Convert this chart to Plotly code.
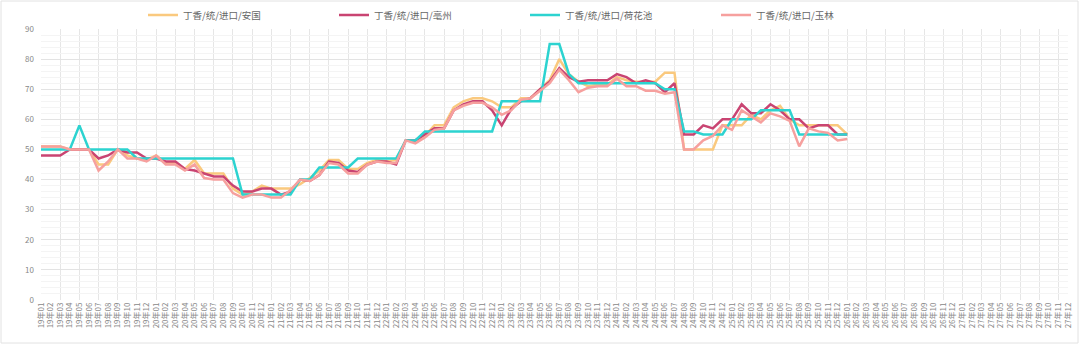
import plotly.graph_objects as go

years = ["19", "20", "21", "22", "23", "24", "25", "26", "27"]
month_nums = ["01", "02", "03", "04", "05", "06", "07", "08", "09", "10", "11", "12"]
months = [f"{y}年{m}" for y in years for m in month_nums]

names = ["丁香/统/进口/安国", "丁香/统/进口/亳州", "丁香/统/进口/荷花池", "丁香/统/进口/玉林"]

anguo = [51, 51, 51, 50, 50, 50, 45, 45, 50, 48, 47, 46.5, 48, 45.5, 45.5, 43.5, 46.5, 42, 42, 42,
         37, 35, 36, 38, 37, 37, 37, 38.5, 40.5, 43, 46.5, 46.5, 43.5, 43.5, 45.5, 46.5, 46, 46.5, 53, 53,
         54.5, 58, 58, 64, 66, 67, 67, 66, 64, 64, 67, 67, 70, 73, 80, 75, 72.5, 71, 71.5, 71.5,
         74, 73, 72.5, 72.5, 72.5, 75.5, 75.5, 50, 50, 50, 50, 58, 58, 58, 61.5, 60, 63, 64.5, 60, 58,
         58, 58, 58, 58, 55]
bozhou = [48, 48, 48, 50, 50, 50, 47, 48, 50, 49, 49, 47, 47, 46, 46, 43.5, 43, 42, 41, 41,
          38, 36, 36, 37, 37, 35, 36, 40, 39.5, 41.5, 46, 45.5, 43, 42.5, 45, 46, 46, 45, 53, 53,
          55, 57, 57, 63, 65, 66, 66, 63, 58, 63.5, 66, 67, 70, 72.5, 77, 74, 72.5, 73, 73, 73,
          75, 74, 72, 73, 72, 69, 72, 55, 55, 58, 57, 60, 60, 65, 62, 62, 65, 63, 60, 60,
          57, 58, 58, 55, 55]
hehuachi = [50, 50, 50, 50, 58, 50, 50, 50, 50, 50, 47, 47, 47, 47, 47, 47, 47, 47, 47, 47,
            47, 35, 35, 35, 35, 35, 35, 40, 40, 44, 44, 44, 44, 47, 47, 47, 47, 47, 53, 53,
            56, 56, 56, 56, 56, 56, 56, 56, 66, 66, 66, 66, 66, 85, 85, 75, 72, 72, 72, 72,
            72, 72, 72, 72, 72, 70, 70, 56, 56, 55, 55, 55, 60, 60, 60, 63, 63, 63, 63, 55,
            55, 55, 55, 55, 55]
yulin = [51, 51, 51, 50, 50, 50, 43, 46, 50, 47, 47, 46, 48, 45, 45, 43, 45, 40.5, 40, 40,
         35.5, 34, 35, 35, 34, 34, 36.5, 40, 39.5, 41.5, 45.5, 45, 42, 42, 45, 46, 45.5, 45.5, 53, 52,
         54, 56.5, 57, 63, 64.5, 65.5, 65.5, 64, 61.5, 63, 66.5, 67, 69.5, 72, 76.5, 73, 69, 70.5, 71, 71,
         73.5, 71, 71, 69.5, 69.5, 68.5, 69, 50, 50, 53, 54.5, 58, 56.5, 63, 61, 59, 62, 61, 59.5, 51,
         57, 56, 55.5, 53, 53.5]

series = [anguo, bozhou, hehuachi, yulin]
colors = ["#FAC97E", "#C94472", "#2CD3D0", "#F6A09E"]

fig = go.Figure()
for name, vals, col in zip(names, series, colors):
    xs = list(range(len(vals)))
    fig.add_trace(go.Scatter(
        x=xs, y=vals, name=name, mode="lines",
        line=dict(color=col, width=2.5),
        hoverinfo="skip",
    ))

font_family = "Noto Sans CJK SC, Noto Sans, sans-serif"

L, R, T, B = 41, 12, 29, 50
W, H = 1080, 350
pw, ph = W - L - R, H - T - B

def px_x(p):
    return (p - L) / pw

def px_y(p):
    return (H - B - p) / ph

fig.update_layout(
    width=W, height=H,
    margin=dict(l=L, r=R, t=T, b=B, autoexpand=False),
    paper_bgcolor="white", plot_bgcolor="white",
    font=dict(family=font_family, color="#888", size=8),
    showlegend=True,
    legend=dict(
        orientation="h", x=px_x(143), xanchor="left", y=px_y(15), yanchor="middle",
        font=dict(size=9.5, color="#666", family=font_family),
        entrywidth=146, entrywidthmode="pixels", itemwidth=30,
        bgcolor="rgba(0,0,0,0)", traceorder="normal",
    ),
    xaxis=dict(
        range=[0, len(months) - 1],
        tickmode="array", tickvals=list(range(len(months))), ticktext=months,
        tickangle=-90, tickfont=dict(size=8, color="#888"),
        showgrid=False, zeroline=False, showline=False, ticks="",
        minor=dict(tickmode="linear", tick0=0, dtick=2, showgrid=True,
                   gridcolor="#e6e6e6", gridwidth=1, ticks=""),
    ),
    yaxis=dict(
        range=[0, 90], dtick=10, tick0=0,
        tickfont=dict(size=8, color="#888"),
        showgrid=True, gridcolor="#e3e3e3", gridwidth=1,
        zeroline=False, showline=False, ticks="", ticklabelstandoff=6,
        minor=dict(dtick=2, showgrid=True, gridcolor="#f4f4f4", gridwidth=1, ticks=""),
    ),
    shapes=[dict(
        type="rect", xref="paper", yref="paper",
        x0=px_x(1), x1=px_x(1078), y0=px_y(343), y1=px_y(1),
        line=dict(color="#e2e2e2", width=1), fillcolor="rgba(0,0,0,0)", layer="below",
    )],
)

fig.write_html("out.html")
